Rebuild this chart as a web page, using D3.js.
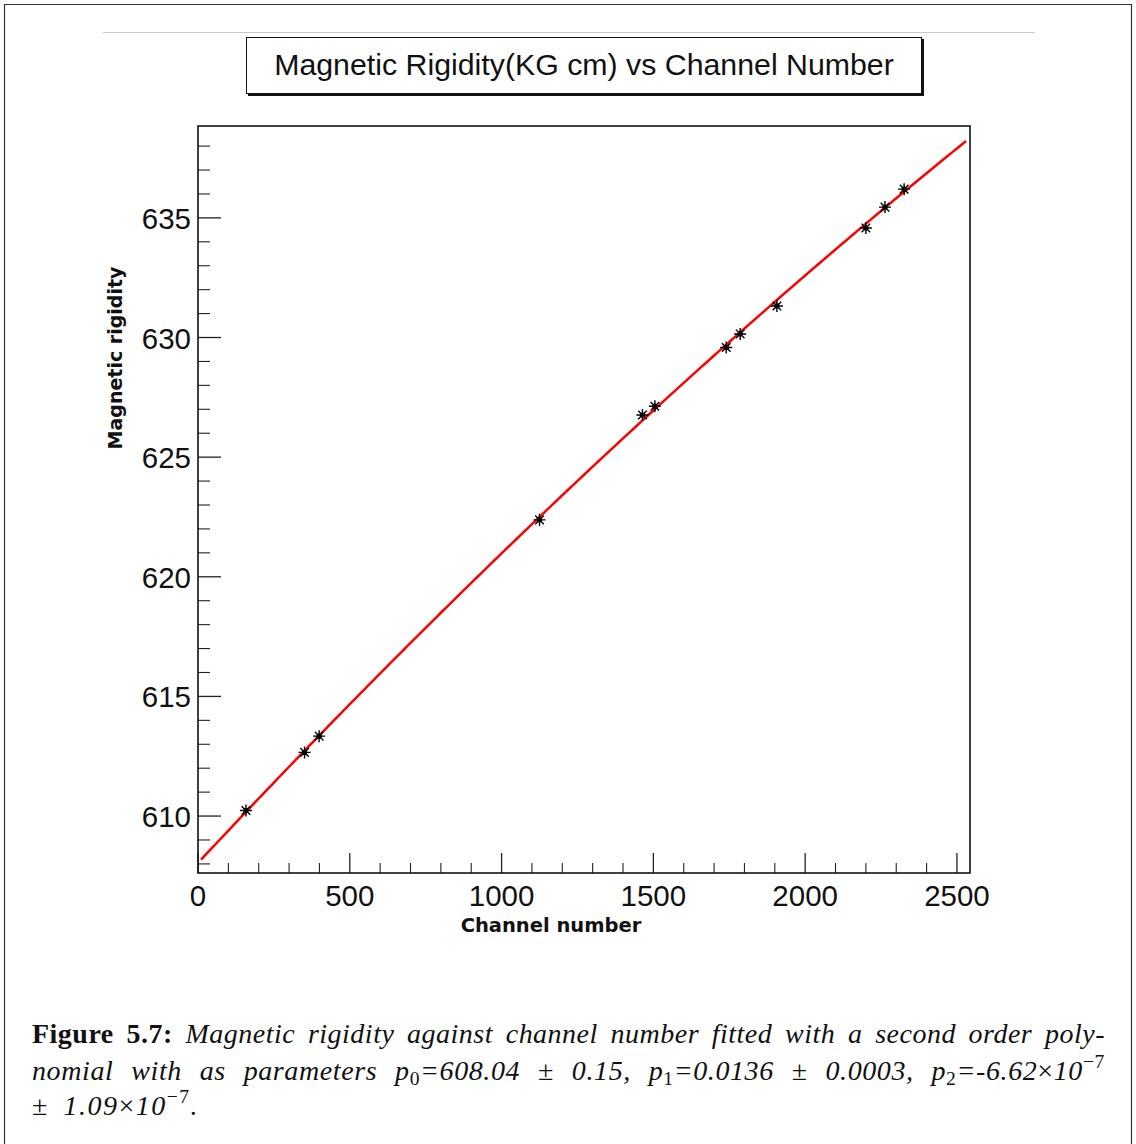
<!DOCTYPE html>
<html>
<head>
<meta charset="utf-8">
<script src="https://cdn.jsdelivr.net/npm/d3@7"></script>
<style>
  html, body { margin: 0; padding: 0; background: #fff; }
  svg { display: block; }
</style>
</head>
<body>
<svg id="chart" width="1136" height="1144"></svg>
<script>
// Calibration points: channel number and magnetic rigidity (kG cm)
const channels = [158, 351, 399, 1125, 1464, 1505, 1740, 1786, 1907, 2200, 2263, 2326];
const rigidity = [610.23, 612.66, 613.34, 622.38, 626.76, 627.13, 629.58, 630.15, 631.32, 634.58, 635.45, 636.20];

// Second order polynomial fit parameters p0, p1, p2 and its drawn range
const fitParams = [608.04, 0.0136, -6.62e-7];
const fitRange = [10, 2530];

const xTicks = [0, 500, 1000, 1500, 2000, 2500];
const yTicks = [610, 615, 620, 625, 630, 635];

const titleText = "Magnetic Rigidity(KG cm) vs Channel Number";
const xTitle = "Channel number";
const yTitle = "Magnetic rigidity";

const svg = d3.select("#chart");

// page frame
svg.append("path")
  .attr("d", "M4.5,1150 V4.5 H1131.5 V1150")
  .attr("fill", "none").attr("stroke", "#333").attr("stroke-width", 1.2);

// thin rule above the title
svg.append("line")
  .attr("x1", 103).attr("x2", 1035).attr("y1", 32.5).attr("y2", 32.5)
  .attr("stroke", "#c8c8c8").attr("stroke-width", 1);

// title box with shadow
svg.append("rect").attr("x", 248).attr("y", 39).attr("width", 676).attr("height", 57).attr("fill", "#111");
svg.append("rect").attr("x", 246.5).attr("y", 37.5).attr("width", 675).attr("height", 56)
  .attr("fill", "#fff").attr("stroke", "#111").attr("stroke-width", 1);
svg.append("text")
  .attr("x", 584).attr("y", 75)
  .attr("text-anchor", "middle")
  .attr("font-family", "Liberation Sans, Arial, sans-serif")
  .attr("font-size", 30.3)
  .attr("fill", "#111")
  .text(titleText);

// plot area
const plot = { left: 198, right: 970, top: 126, bottom: 873 };
const x = d3.scaleLinear().domain([0, 2543]).range([plot.left, plot.right]);
const y = d3.scaleLinear().domain([607.62, 638.84]).range([plot.bottom, plot.top]);

const axisColor = "#222";
const tickFont = 29.5;

// x axis ticks (inside the frame)
const xMinor = d3.range(0, 2501, 100).filter(v => v % 500 !== 0);
const gx = svg.append("g");
gx.selectAll("line.major").data(xTicks).join("line")
  .attr("x1", d => x(d)).attr("x2", d => x(d))
  .attr("y1", plot.bottom).attr("y2", plot.bottom - 20)
  .attr("stroke", axisColor).attr("stroke-width", 1.3);
gx.selectAll("line.minor").data(xMinor).join("line")
  .attr("x1", d => x(d)).attr("x2", d => x(d))
  .attr("y1", plot.bottom).attr("y2", plot.bottom - 10)
  .attr("stroke", axisColor).attr("stroke-width", 1.1);
gx.selectAll("text").data(xTicks).join("text")
  .attr("x", d => x(d)).attr("y", 906)
  .attr("text-anchor", "middle")
  .attr("font-family", "Liberation Sans, Arial, sans-serif")
  .attr("font-size", tickFont).attr("fill", "#111")
  .text(d => d);

// y axis ticks (inside the frame)
const yMinor = d3.range(608, 639, 1).filter(v => v % 5 !== 0);
const gy = svg.append("g");
gy.selectAll("line.major").data(yTicks).join("line")
  .attr("x1", plot.left).attr("x2", plot.left + 23)
  .attr("y1", d => y(d)).attr("y2", d => y(d))
  .attr("stroke", axisColor).attr("stroke-width", 1.3);
gy.selectAll("line.minor").data(yMinor).join("line")
  .attr("x1", plot.left).attr("x2", plot.left + 12)
  .attr("y1", d => y(d)).attr("y2", d => y(d))
  .attr("stroke", axisColor).attr("stroke-width", 1.1);
gy.selectAll("text").data(yTicks).join("text")
  .attr("x", 191).attr("y", d => y(d) + 11)
  .attr("text-anchor", "end")
  .attr("font-family", "Liberation Sans, Arial, sans-serif")
  .attr("font-size", tickFont).attr("fill", "#111")
  .text(d => d);

// frame
svg.append("rect")
  .attr("x", plot.left).attr("y", plot.top)
  .attr("width", plot.right - plot.left).attr("height", plot.bottom - plot.top)
  .attr("fill", "none").attr("stroke", "#111").attr("stroke-width", 1.6);

// axis titles
svg.append("text")
  .attr("x", 551).attr("y", 932)
  .attr("text-anchor", "middle")
  .attr("font-family", "DejaVu Sans, sans-serif")
  .attr("font-weight", "bold")
  .attr("font-size", 19.5).attr("fill", "#111")
  .text(xTitle);
svg.append("text")
  .attr("transform", "translate(122,358) rotate(-90)")
  .attr("text-anchor", "middle")
  .attr("font-family", "DejaVu Sans, sans-serif")
  .attr("font-weight", "bold")
  .attr("font-size", 19).attr("fill", "#111")
  .text(yTitle);

// fitted polynomial
const poly = c => fitParams[0] + fitParams[1] * c + fitParams[2] * c * c;
const fitSamples = d3.range(fitRange[0], fitRange[1] + 1, 10);
svg.append("path")
  .datum(fitSamples)
  .attr("fill", "none").attr("stroke", "#ff0000").attr("stroke-width", 2.5)
  .attr("d", d3.line().x(d => x(d)).y(d => y(poly(d))));

// asterisk markers
const star = "M-6,0H6M0,-6V6M-4.3,-4.3L4.3,4.3M-4.3,4.3L4.3,-4.3";
svg.append("g").selectAll("path").data(channels).join("path")
  .attr("transform", (d, i) => `translate(${x(d)},${y(rigidity[i])})`)
  .attr("d", star)
  .attr("fill", "none").attr("stroke", "#000").attr("stroke-width", 1.4);
svg.append("g").selectAll("circle").data(channels).join("circle")
  .attr("cx", d => x(d)).attr("cy", (d, i) => y(rigidity[i]))
  .attr("r", 2.6).attr("fill", "#000");

// caption
const capFont = "Liberation Serif, 'DejaVu Serif', serif";
const capSize = 28;
const capLeft = 32, capRight = 1105;

function captionLine(yPos, parts, justify, spacing) {
  const t = svg.append("text")
    .attr("x", capLeft).attr("y", yPos)
    .attr("font-family", capFont).attr("font-size", capSize)
    .attr("fill", "#111").attr("xml:space", "preserve");
  parts.forEach(p => {
    const s = t.append("tspan").text(p.text);
    if (p.bold) s.attr("font-weight", "bold").attr("font-style", "normal");
    else s.attr("font-style", p.upright ? "normal" : "italic");
    if (p.sub) s.attr("font-size", capSize * 0.7).attr("dy", 5);
    if (p.sup) s.attr("font-size", capSize * 0.7).attr("dy", -12);
    if (p.back) s.attr("dy", p.back);
  });
  if (justify) {
    const w = t.node().getComputedTextLength();
    const full = parts.map(p => p.text).join("");
    const spaces = (full.match(/ /g) || []).length;
    const extra = capRight - capLeft - w;
    // spread spare width partly between letters, rest between words
    const ls = Math.max(-0.6, Math.min(0.6, extra * 0.4 / full.length));
    t.attr("letter-spacing", ls);
    const w2 = t.node().getComputedTextLength();
    if (spaces > 0) t.attr("word-spacing", (capRight - capLeft - w2) / spaces);
  } else if (spacing) {
    t.attr("letter-spacing", spacing.letter).attr("word-spacing", spacing.word);
  }
  return t;
}

captionLine(1043, [
  { text: "Figure 5.7:", bold: true },
  { text: " Magnetic rigidity against channel number fitted with a second order poly-" }
], true);

captionLine(1080, [
  { text: "nomial with as parameters p" },
  { text: "0", sub: true, upright: true },
  { text: "=608.04 ", back: -5 },
  { text: "\u00b1", upright: true },
  { text: " 0.15, p" },
  { text: "1", sub: true, upright: true },
  { text: "=0.0136 ", back: -5 },
  { text: "\u00b1", upright: true },
  { text: " 0.0003, p" },
  { text: "2", sub: true, upright: true },
  { text: "=-6.62", back: -5 },
  { text: "\u00d7", upright: true },
  { text: "10" },
  { text: "\u22127", sup: true, upright: true }
], true);

captionLine(1115, [
  { text: "\u00b1", upright: true },
  { text: " 1.09" },
  { text: "\u00d7", upright: true },
  { text: "10" },
  { text: "\u22127", sup: true, upright: true },
  { text: ".", back: 12 }
], false, { letter: 1.5, word: 6 });
</script>
</body>
</html>
